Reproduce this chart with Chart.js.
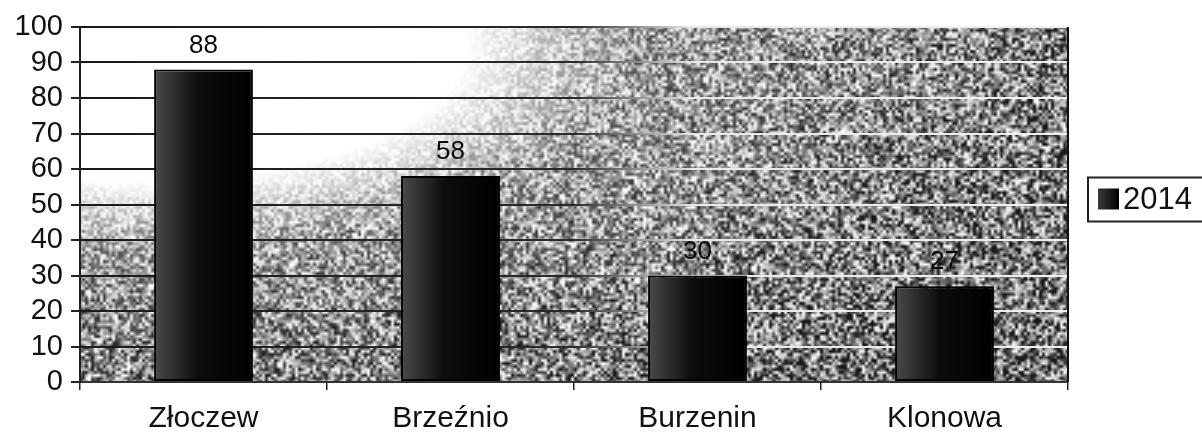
<!DOCTYPE html>
<html>
<head>
<meta charset="utf-8">
<script src="https://cdn.jsdelivr.net/npm/chart.js@4/dist/chart.umd.min.js"></script>
<style>
  html, body { margin: 0; padding: 0; background: #fff; }
  #wrap { width: 1202px; height: 439px; }
</style>
</head>
<body>
<div id="wrap"><canvas id="chart" width="1202" height="439"></canvas></div>
<script>
const categories = ["Złoczew", "Brzeźnio", "Burzenin", "Klonowa"];
const values2014 = [88, 58, 30, 27];
const seriesLabel = "2014";
const yTicks = [0, 10, 20, 30, 40, 50, 60, 70, 80, 90, 100];

const FONT = "'Liberation Sans', Arial, sans-serif";

// grainy grey fill of the plot area, light in the upper left, dark to the right
let texture = null;
function buildTexture(w, h) {
  const c = document.createElement("canvas");
  c.width = w;
  c.height = h;
  const g = c.getContext("2d");
  const img = g.createImageData(w, h);
  let seed = 98765;
  const rnd = () => {
    seed = (seed * 1103515245 + 12345) & 0x7fffffff;
    return seed / 0x7fffffff;
  };
  // value noise on a 3px grid, bilinear, so the grain is blobby like a scan
  const step = 3;
  const gw = Math.ceil(w / step) + 2, gh = Math.ceil(h / step) + 2;
  const grid = new Float32Array(gw * gh);
  for (let i = 0; i < grid.length; i++) grid[i] = rnd() - 0.5;
  for (let y = 0; y < h; y++) {
    const fy = y / step, iy = Math.floor(fy), ty = fy - iy;
    for (let x = 0; x < w; x++) {
      const fx = x / step, ix = Math.floor(fx), tx = fx - ix;
      const n00 = grid[iy * gw + ix], n10 = grid[iy * gw + ix + 1];
      const n01 = grid[(iy + 1) * gw + ix], n11 = grid[(iy + 1) * gw + ix + 1];
      const n = (n00 * (1 - tx) + n10 * tx) * (1 - ty) + (n01 * (1 - tx) + n11 * tx) * ty;
      const dx = (x - 60) / 450, dy = (y - 20) / 185;
      const d = Math.sqrt(dx * dx + dy * dy);
      let b;
      if (d < 0.72) b = 1;
      else if (d < 1.1) b = 1 - (d - 0.72) / 0.38 * 0.36;
      else b = Math.max(0.47, 0.64 - (d - 1.1) * 0.15);
      const amp = Math.min(1.05, (1 - b) * 2.1);
      let v = b + n * amp;
      v = Math.max(0.1, Math.min(1, v));
      const p = (y * w + x) * 4;
      img.data[p] = img.data[p + 1] = img.data[p + 2] = Math.round(v * 255);
      img.data[p + 3] = 255;
    }
  }
  g.putImageData(img, 0, 0);
  return c;
}

const backgroundPlugin = {
  id: "plotBackground",
  beforeDraw(chart) {
    const a = chart.chartArea;
    const w = Math.round(a.right - a.left), h = Math.round(a.bottom - a.top);
    if (!texture || texture.width !== w || texture.height !== h) texture = buildTexture(w, h);
    chart.ctx.drawImage(texture, a.left, a.top);
  },
  afterDraw(chart) {
    const a = chart.chartArea, ctx = chart.ctx;
    ctx.save();
    ctx.strokeStyle = "#111";
    ctx.lineWidth = 2;
    ctx.beginPath();
    ctx.moveTo(a.right, a.top);
    ctx.lineTo(a.right, a.bottom);
    ctx.stroke();
    ctx.restore();
  }
};

const valueLabelPlugin = {
  id: "valueLabels",
  afterDatasetsDraw(chart) {
    const ctx = chart.ctx;
    const meta = chart.getDatasetMeta(0);
    ctx.save();
    ctx.font = "26px " + FONT;
    ctx.fillStyle = "#0a0a0a";
    ctx.textAlign = "center";
    ctx.textBaseline = "bottom";
    meta.data.forEach((bar, i) => {
      ctx.fillText(String(chart.data.datasets[0].data[i]), bar.x, bar.y - 11);
    });
    ctx.restore();
  }
};

const legendBoxPlugin = {
  id: "legendBox",
  afterDraw(chart) {
    const ctx = chart.ctx;
    const a = chart.chartArea;
    const cy = (a.top + a.bottom) / 2 - 5;
    const x = 1088;
    ctx.save();
    ctx.fillStyle = "#fff";
    ctx.fillRect(x, cy - 22, 120, 44);
    ctx.strokeStyle = "#222";
    ctx.lineWidth = 2;
    ctx.strokeRect(x, cy - 22, 120, 44);
    const g = ctx.createLinearGradient(x + 10, 0, x + 31, 0);
    g.addColorStop(0, "#3a3a3a");
    g.addColorStop(1, "#000");
    ctx.fillStyle = g;
    ctx.fillRect(x + 10, cy - 11, 21, 21);
    ctx.fillStyle = "#111";
    ctx.font = "31px " + FONT;
    ctx.textAlign = "left";
    ctx.textBaseline = "middle";
    ctx.fillText(chart.data.datasets[0].label, x + 35, cy + 1);
    ctx.restore();
  }
};

function barFill(context) {
  const chart = context.chart;
  const xs = chart.scales.x;
  if (!xs || !chart.chartArea) return "#111";
  const cx = xs.getPixelForValue(context.dataIndex);
  const half = xs.width / categories.length * 0.4 / 2;
  const g = chart.ctx.createLinearGradient(cx - half, 0, cx + half, 0);
  g.addColorStop(0, "#4a4a4a");
  g.addColorStop(0.45, "#0c0c0c");
  g.addColorStop(1, "#000");
  return g;
}

function gridColor(context) {
  const chart = context.chart;
  if (!chart.chartArea) return "#222";
  const g = chart.ctx.createLinearGradient(80, 0, 1068, 0);
  g.addColorStop(0, "#1a1a1a");
  g.addColorStop(0.5, "#2a2a2a");
  g.addColorStop(0.62, "#e8e8e8");
  g.addColorStop(1, "#f0f0f0");
  return g;
}

new Chart(document.getElementById("chart"), {
  type: "bar",
  data: {
    labels: categories,
    datasets: [{
      label: seriesLabel,
      data: values2014,
      backgroundColor: barFill,
      borderColor: "#000",
      borderWidth: 2,
      borderSkipped: false,
      barPercentage: 0.4,
      categoryPercentage: 1.0
    }]
  },
  options: {
    responsive: false,
    animation: false,
    events: [],
    layout: { padding: { top: 27, right: 134, left: 0, bottom: 0 } },
    plugins: {
      legend: { display: false },
      tooltip: { enabled: false }
    },
    scales: {
      x: {
        afterFit(scale) { scale.height = 57; },
        grid: {
          offset: true,
          drawOnChartArea: false,
          color: "#222",
          tickLength: 8,
          lineWidth: 1.5
        },
        border: { color: "#333", width: 2 },
        ticks: {
          color: "#111",
          padding: 11,
          autoSkip: false,
          font: { family: FONT, size: 30 }
        }
      },
      y: {
        min: 0,
        max: 100,
        afterFit(scale) { scale.width = 80; },
        afterBuildTicks(scale) { scale.ticks = yTicks.map(v => ({ value: v })); },
        grid: {
          color: gridColor,
          lineWidth: 2,
          tickLength: 9,
          tickColor: "#222"
        },
        border: { color: "#222", width: 2 },
        ticks: {
          color: "#111",
          padding: 8,
          autoSkip: false,
          font: { family: FONT, size: 29 }
        }
      }
    }
  },
  plugins: [backgroundPlugin, valueLabelPlugin, legendBoxPlugin]
});
</script>
</body>
</html>
